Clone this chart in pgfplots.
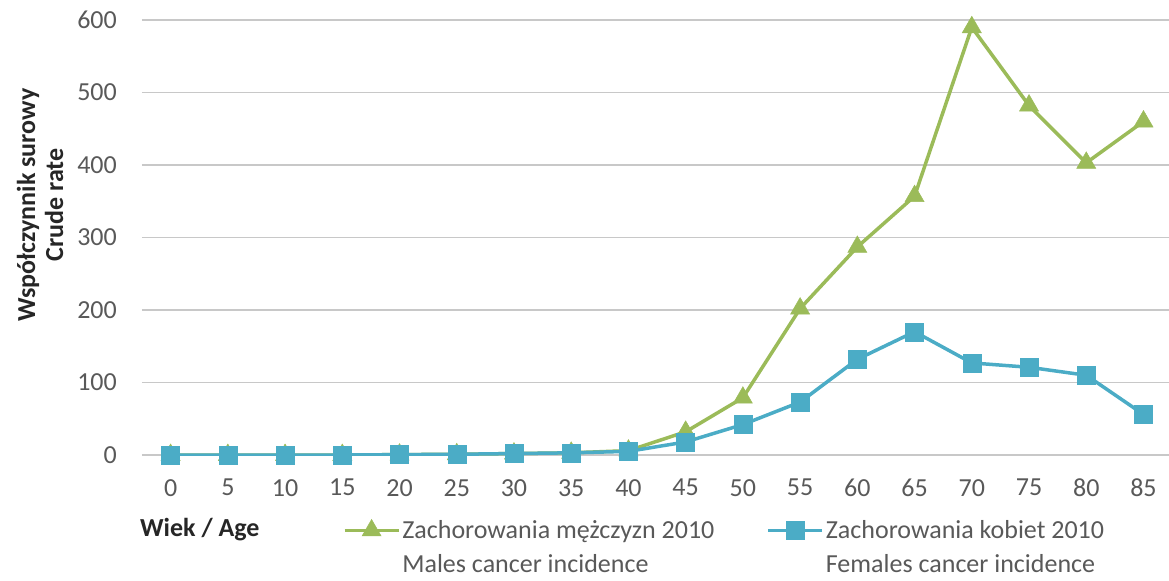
\documentclass[border=0pt]{standalone}
\usepackage{pgfplots}
\pgfplotsset{compat=1.18}
\usepackage{fontspec}
\setmainfont{Carlito}
\definecolor{males}{HTML}{9BBB59}
\definecolor{females}{HTML}{4BACC6}
\definecolor{txt}{HTML}{595959}
\definecolor{grid}{HTML}{C8C8C8}
\begin{document}
\fontsize{26bp}{31bp}\selectfont
\begin{tikzpicture}
\begin{axis}[
  name=ax,
  scale only axis,
  width=1029bp, height=435bp,
  xmin=-2.5, xmax=87.4,
  ymin=0, ymax=600,
  xtick={0,5,...,85},
  ytick={0,100,...,600},
  axis line style={draw=none},
  major tick length=0pt,
  ymajorgrids,
  major grid style={draw=grid, line width=1.6bp},
  tick label style={font=\fontsize{26bp}{31bp}\selectfont, text=txt},
  yticklabel style={anchor=east, inner sep=0pt, xshift=-25bp},
  xticklabel style={anchor=north, inner sep=0pt, yshift=-24bp},
  /pgf/number format/assume math mode=true,
  xlabel={Wiek / Age},
  xlabel style={at={(axis description cs:-0.002,-0.172)}, anchor=west,
    inner sep=0pt, font=\bfseries\fontsize{26bp}{31bp}\selectfont, text=black!85},
  ylabel={Współczynnik surowy\\Crude rate},
  ylabel style={at={(axis description cs:-0.099,0.575)}, anchor=center,
    align=center, font=\bfseries\fontsize{26bp}{28bp}\selectfont, text=black!85},
  legend columns=2,
  legend style={draw=none, fill=none, inner sep=0pt,
    at={(axis description cs:0.195,-0.137)}, anchor=north west,
    font=\fontsize{26bp}{31bp}\selectfont,
    cells={anchor=base west, text=txt},
    /tikz/every even column/.append style={column sep=50bp}},
  legend image code/.code={
    \draw[mark repeat=2, mark phase=2, #1] plot coordinates {(0bp,8bp) (27bp,8bp) (54bp,8bp)};
  },
]
\addplot[males, line width=3.5bp, mark=triangle*, mark size=11bp,
  mark options={solid, fill=males, draw=males, line width=0.5bp}]
  coordinates {
  (0,0) (5,0) (10,0) (15,0) (20,0.5) (25,1) (30,2) (35,3) (40,6)
  (45,32) (50,79) (55,202) (60,287) (65,357) (70,590) (75,482) (80,403) (85,460)
};
\addlegendentry{\begin{tabular}[t]{@{}l@{}}Zachorowania mężczyzn 2010\\[3bp]Males cancer incidence\end{tabular}}
\addplot[females, line width=3.5bp, mark=square*, mark size=9bp,
  mark options={solid, fill=females, draw=females, line width=0.5bp}]
  coordinates {
  (0,0) (5,0) (10,0) (15,0) (20,0.5) (25,1) (30,2) (35,3) (40,5)
  (45,18) (50,42) (55,73) (60,132) (65,170) (70,127) (75,121) (80,110) (85,56)
};
\addlegendentry{\begin{tabular}[t]{@{}l@{}}Zachorowania kobiet 2010\\[3bp]Females cancer incidence\end{tabular}}
\end{axis}
\pgfresetboundingbox
\path (ax.south west) ++(-142bp,-126bp) rectangle ++(1169bp,581bp);
\end{tikzpicture}
\end{document}
